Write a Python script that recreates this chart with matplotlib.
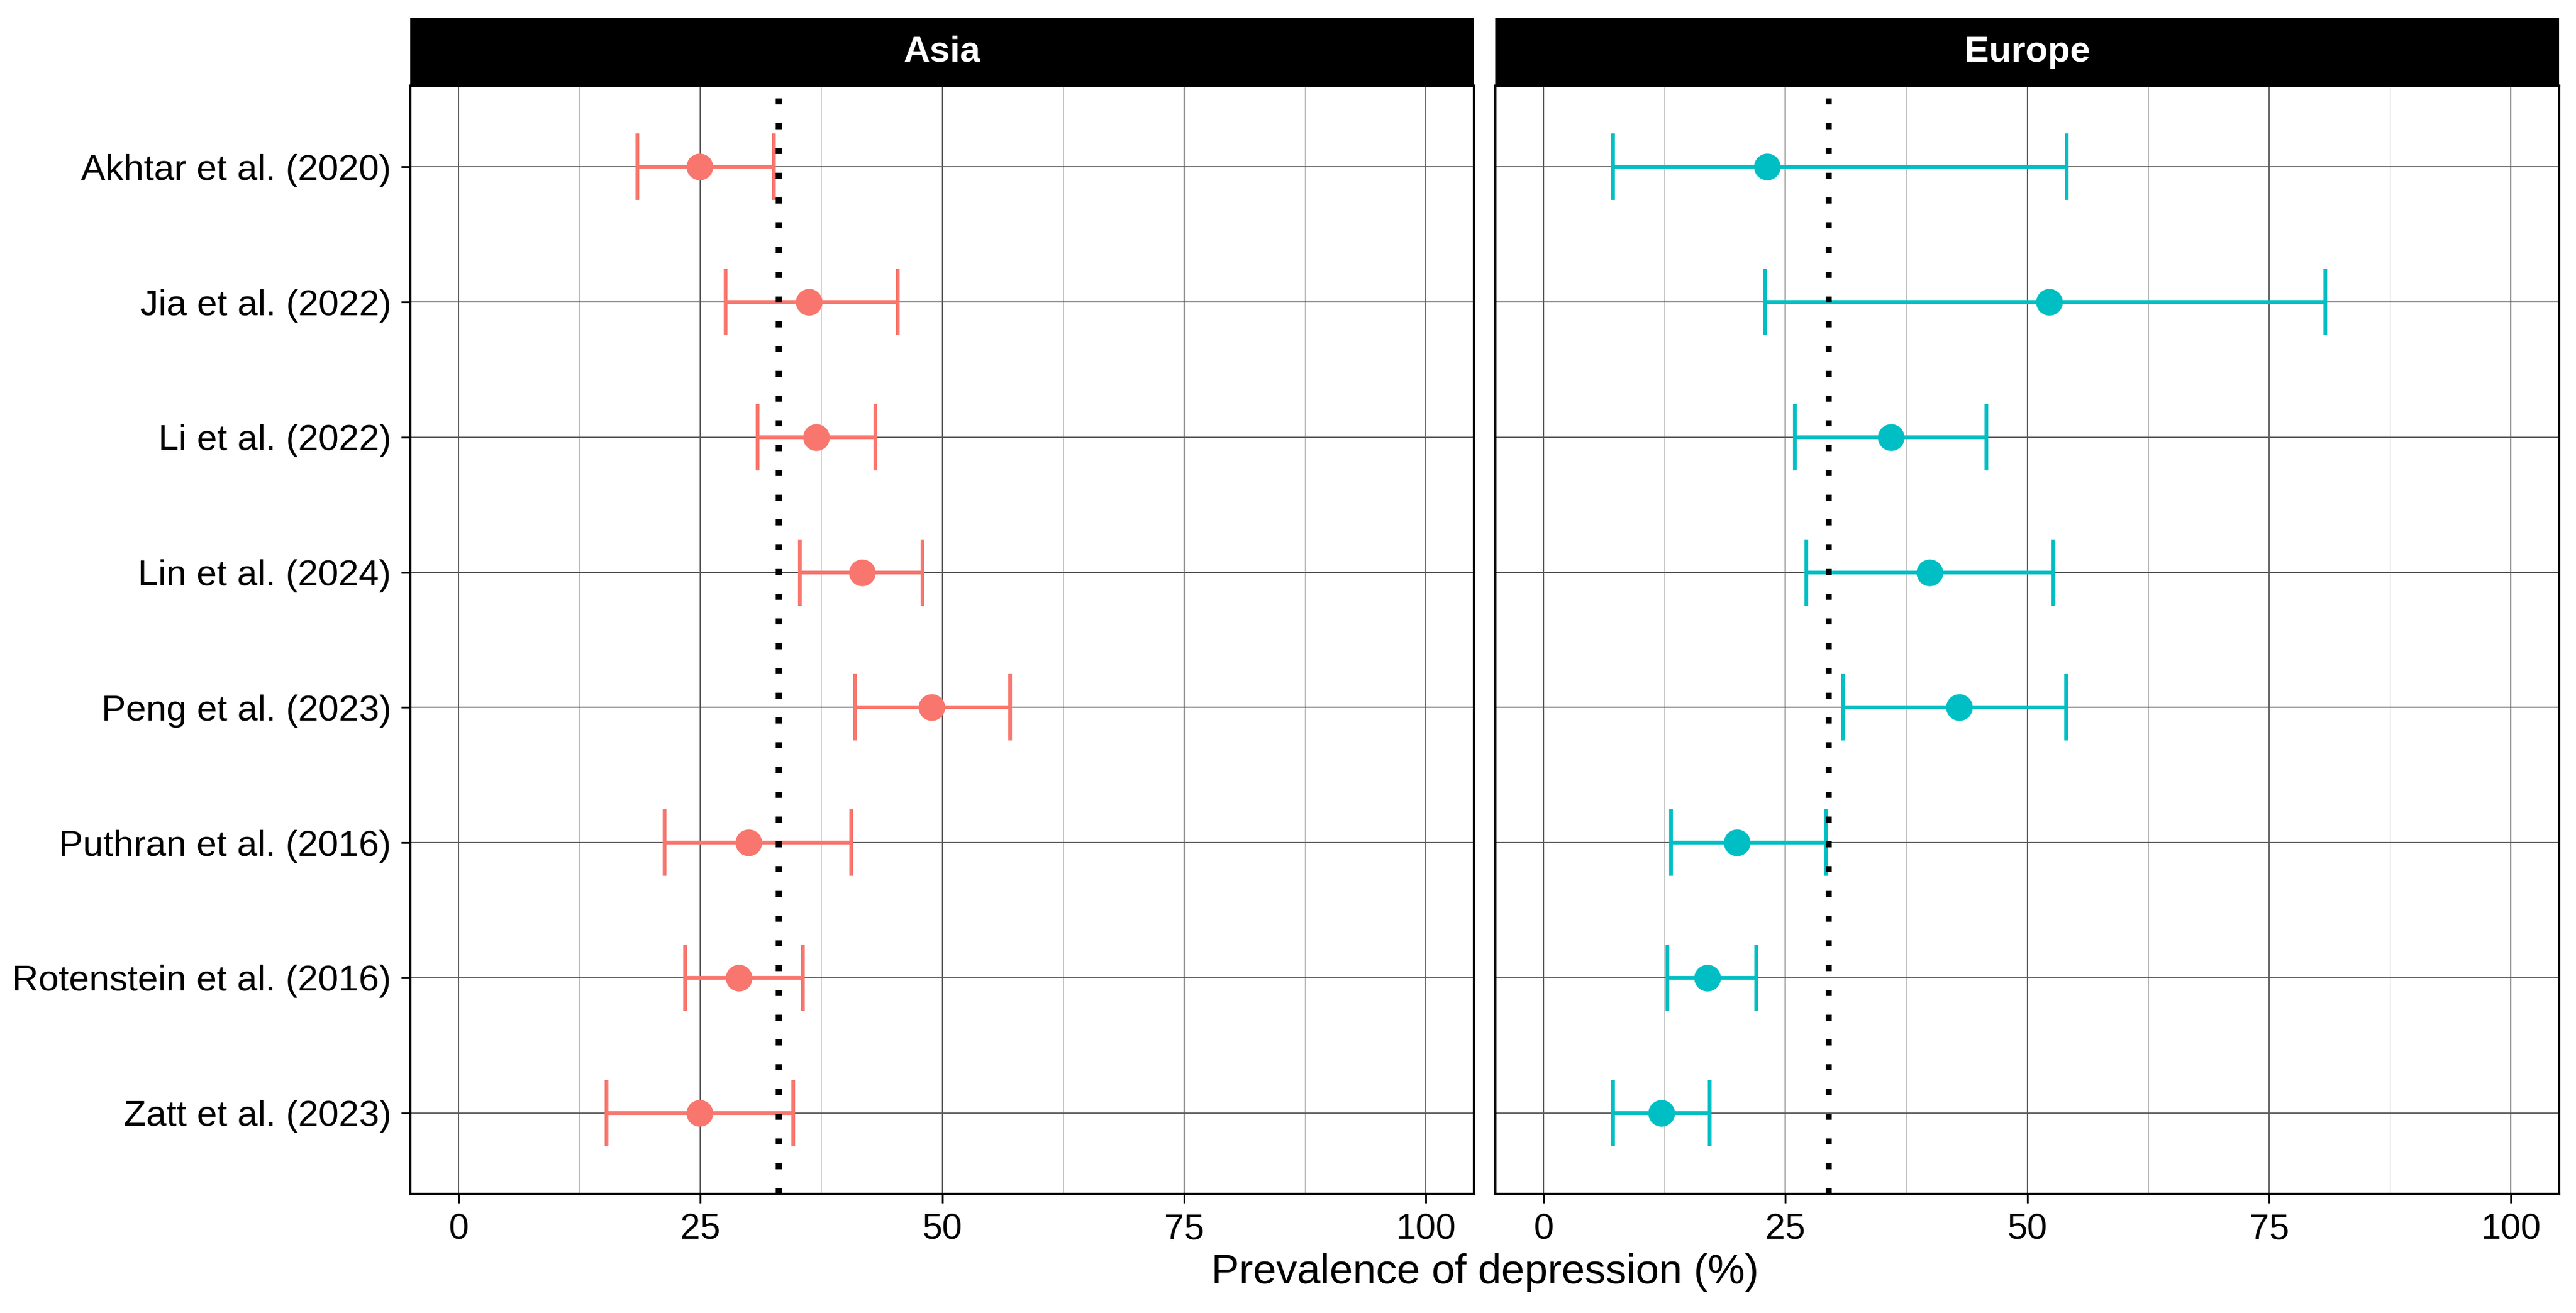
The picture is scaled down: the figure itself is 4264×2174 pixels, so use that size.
import matplotlib.pyplot as plt
import numpy as np

plt.rcParams['font.family'] = ['Liberation Sans', 'DejaVu Sans']

studies = ['Akhtar et al. (2020)', 'Jia et al. (2022)', 'Li et al. (2022)',
           'Lin et al. (2024)', 'Peng et al. (2023)', 'Puthran et al. (2016)',
           'Rotenstein et al. (2016)', 'Zatt et al. (2023)']

asia_est = [24.9, 36.2, 37.0, 41.7, 48.9, 30.0, 29.0, 24.9]
asia_lo = [18.5, 27.6, 30.9, 35.3, 41.0, 21.3, 23.4, 15.3]
asia_hi = [32.6, 45.4, 43.1, 48.0, 57.0, 40.6, 35.6, 34.6]
asia_pooled = 33.1

europe_est = [23.1, 52.3, 35.9, 39.9, 43.0, 20.0, 16.9, 12.2]
europe_lo = [7.2, 22.9, 26.0, 27.2, 31.0, 13.2, 12.8, 7.2]
europe_hi = [54.1, 80.8, 45.8, 52.7, 54.0, 29.2, 22.0, 17.2]
europe_pooled = 29.5

panels = [
    ('Asia', asia_est, asia_lo, asia_hi, asia_pooled, '#F8766D'),
    ('Europe', europe_est, europe_lo, europe_hi, europe_pooled, '#00BFC4'),
]

W, H = 4264, 2174
fig = plt.figure(figsize=(W / 300, H / 300), dpi=300)

lefts = [679 / W, 2475 / W]
width = 1761 / W
bottom = 1 - 1977 / H
top = 1 - 142 / H
strip_top = 1 - 30 / H

ypos = np.arange(len(studies))

for k, (name, est, lo, hi, pooled, col) in enumerate(panels):
    ax = fig.add_axes([lefts[k], bottom, width, top - bottom])
    est = np.array(est)
    lo = np.array(lo)
    hi = np.array(hi)

    ax.set_xlim(-5, 105)
    ax.set_ylim(len(studies) - 0.4, -0.6)
    ax.set_xticks([0, 25, 50, 75, 100])
    ax.set_xticks([12.5, 37.5, 62.5, 87.5], minor=True)
    ax.set_yticks(ypos)
    ax.grid(which='major', color='#5a5a5a', linewidth=0.45, zorder=0)
    ax.grid(which='minor', axis='x', color='#b0b0b0', linewidth=0.3, zorder=0)
    ax.set_axisbelow(True)
    for sp in ax.spines.values():
        sp.set_linewidth(1.0)
    ax.tick_params(axis='x', which='major', length=3.5, width=0.7, labelsize=14.3, pad=4)
    ax.tick_params(axis='x', which='minor', length=0)
    if k == 0:
        ax.set_yticklabels(studies)
        ax.tick_params(axis='y', length=3.5, width=0.7, labelsize=14.5, pad=4)
    else:
        ax.set_yticklabels([])
        ax.tick_params(axis='y', length=0)

    ax.axvline(pooled, color='black', linewidth=2.4, linestyle=(0, (1, 3.1)),
               dash_capstyle='butt', zorder=4)
    ax.errorbar(est, ypos, xerr=[est - lo, hi - est], fmt='none', ecolor=col,
                elinewidth=1.5, capsize=13.3, capthick=1.5, zorder=3)
    ax.plot(est, ypos, 'o', color=col, markersize=9.6, zorder=5)

    sax = fig.add_axes([lefts[k], top, width, strip_top - top])
    sax.set_facecolor('black')
    sax.set_xticks([])
    sax.set_yticks([])
    for sp in sax.spines.values():
        sp.set_visible(False)
    sax.text(0.5, 0.5, name, color='white', fontsize=14.5, fontweight='bold',
             ha='center', va='center', transform=sax.transAxes)

fig.text((679 + 4237) / 2 / W, 1 - 2107 / H, 'Prevalence of depression (%)',
         ha='center', va='center', fontsize=16.6)

fig.savefig('out.png', dpi=300)
